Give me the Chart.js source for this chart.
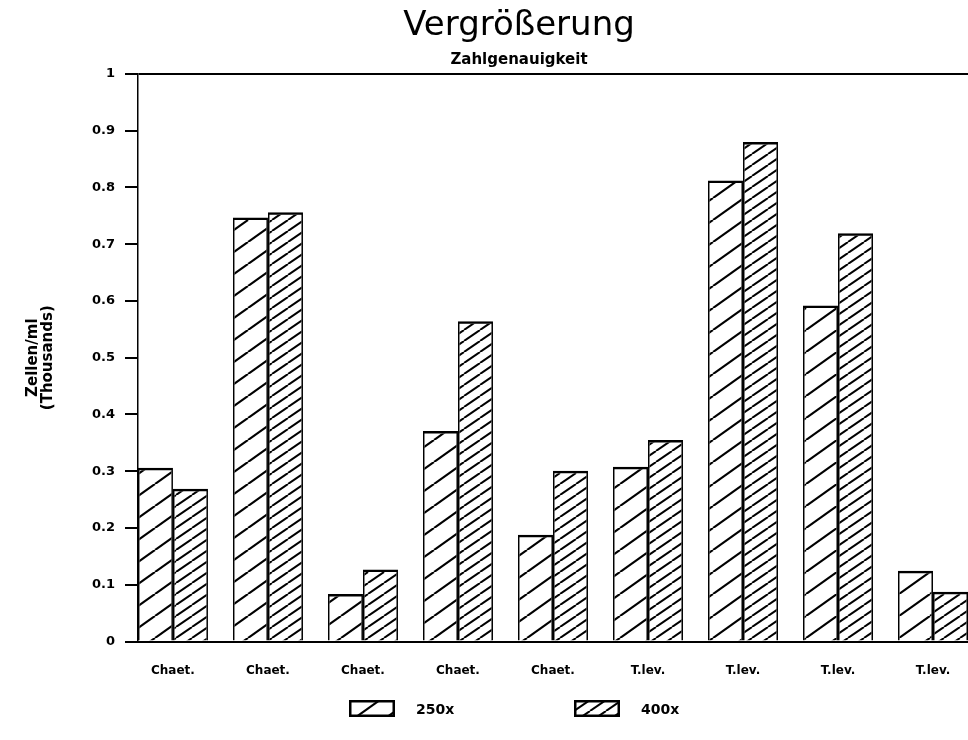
<!DOCTYPE html>
<html><head><meta charset="utf-8">
<script src="https://cdn.jsdelivr.net/npm/chart.js@4"></script>
<style>
html,body{margin:0;padding:0;background:#fff;overflow:hidden;width:968px;height:740px;}
#wrap{position:relative;width:1040px;height:740px;}
#c{display:block;}
#legend{position:absolute;left:0;top:0;width:1040px;height:740px;pointer-events:none;font:bold 14px "DejaVu Sans",sans-serif;color:#000}
.li{position:absolute;display:flex;align-items:center;white-space:nowrap;}
.li canvas{display:block;margin-right:21px}
</style></head><body>
<div id="wrap"><canvas id="c" width="1040" height="740"></canvas><div id="legend"></div></div>
<script>
// ---- data ----
const categories = ['Chaet.', 'Chaet.', 'Chaet.', 'Chaet.', 'Chaet.', 'T.lev.', 'T.lev.', 'T.lev.', 'T.lev.'];
const values250 = [0.306, 0.747, 0.084, 0.371, 0.188, 0.308, 0.812, 0.592, 0.125];
const values400 = [0.269, 0.756, 0.127, 0.564, 0.301, 0.355, 0.880, 0.719, 0.088];
const seriesLabels = ['250x', '400x'];
const yTickLabels = ['0', '0.1', '0.2', '0.3', '0.4', '0.5', '0.6', '0.7', '0.8', '0.9', '1'];
const titleText = 'Vergrößerung';
const subtitleText = 'Zahlgenauigkeit';
const yTitle = ['Zellen/ml', '(Thousands)'];

// ---- hatch patterns ----
function hatchTile(w, h, lw) {
  const c = document.createElement('canvas');
  c.width = w; c.height = h;
  const g = c.getContext('2d');
  g.strokeStyle = '#000'; g.lineWidth = lw;
  for (const dx of [-w, 0, w]) {
    g.beginPath(); g.moveTo(dx, h); g.lineTo(dx + w, 0); g.stroke();
  }
  return c;
}
const canvas = document.getElementById('c');
const ctx = canvas.getContext('2d');
const tiles = [hatchTile(31, 22, 2.2), hatchTile(16, 11, 2.0)];
const patterns = tiles.map(t => ctx.createPattern(t, 'repeat'));

const xMin = -0.368, xMax = 9;

const chart = new Chart(ctx, {
  type: 'bar',
  data: {
    datasets: [values250, values400].map((vals, k) => ({
      label: seriesLabels[k],
      data: vals.map((v, i) => ({x: i, y: v})),
      backgroundColor: patterns[k],
      borderColor: '#000',
      borderWidth: {top: 2.5, left: 1.5, right: 1.5, bottom: 0},
      categoryPercentage: 0.737,
      barPercentage: 1
    }))
  },
  options: {
    responsive: false,
    animation: false,
    layout: {padding: {top: 6, left: 10, right: 12, bottom: 40}},
    plugins: {
      legend: {display: false},
      tooltip: {enabled: false},
      title: {display: true, text: titleText, color: '#000',
        font: {family: 'DejaVu Sans', size: 34, weight: 'normal', lineHeight: 1.2},
        padding: {top: 0, bottom: 0}},
      subtitle: {display: true, text: subtitleText, color: '#000',
        font: {family: 'DejaVu Sans', size: 15, weight: 'bold', lineHeight: 1.2},
        padding: {top: 4, bottom: 5}}
    },
    scales: {
      x: {
        type: 'linear', min: xMin, max: xMax, offset: false,
        afterBuildTicks: (s) => {
          s.ticks = s.ticks.filter(t => Number.isInteger(t.value) && t.value >= 0 && t.value < categories.length);
        },
        grid: {display: false, drawTicks: false},
        border: {display: true, color: '#000', width: 2},
        ticks: {stepSize: 1, includeBounds: false, autoSkip: false, maxRotation: 0, padding: 22,
          color: '#000', font: {family: 'DejaVu Sans', size: 12, weight: 'bold'},
          callback: (v) => (categories[v] !== undefined ? categories[v] : '')}
      },
      y: {
        min: 0, max: 1,
        afterFit: (s) => { s.width = 128; },
        ticks: {stepSize: 0.1, padding: 10, color: '#000',
          font: {family: 'DejaVu Sans', size: 13, weight: 'bold'},
          callback: (v, i) => yTickLabels[i]},
        grid: {
          color: (c) => (c.tick && Math.abs(c.tick.value - 1) < 1e-9 ? '#000' : 'rgba(0,0,0,0)'),
          tickColor: '#000', tickLength: 13, tickWidth: 2, lineWidth: 2
        },
        border: {display: true, color: '#000', width: 1.5},
        title: {display: true, text: yTitle, color: '#000',
          font: {family: 'DejaVu Sans', size: 15, weight: 'bold', lineHeight: 1.0},
          padding: {top: 16, bottom: 0}}
      }
    }
  }
});

// ---- HTML legend built from the chart's datasets ----
const legendEl = document.getElementById('legend');
const legendLeft = [349, 574];
chart.data.datasets.forEach((ds, k) => {
  const item = document.createElement('div');
  item.className = 'li';
  item.style.left = legendLeft[k] + 'px';
  item.style.top = '700px';
  const sw = document.createElement('canvas');
  sw.width = 46; sw.height = 17;
  const g = sw.getContext('2d');
  g.fillStyle = g.createPattern(tiles[k], 'repeat');
  g.fillRect(0, 0, 46, 17);
  g.strokeStyle = '#000'; g.lineWidth = 2.5;
  g.strokeRect(1.25, 1.25, 43.5, 14.5);
  item.appendChild(sw);
  const span = document.createElement('span');
  span.textContent = ds.label;
  item.appendChild(span);
  legendEl.appendChild(item);
});
</script>
</body></html>
